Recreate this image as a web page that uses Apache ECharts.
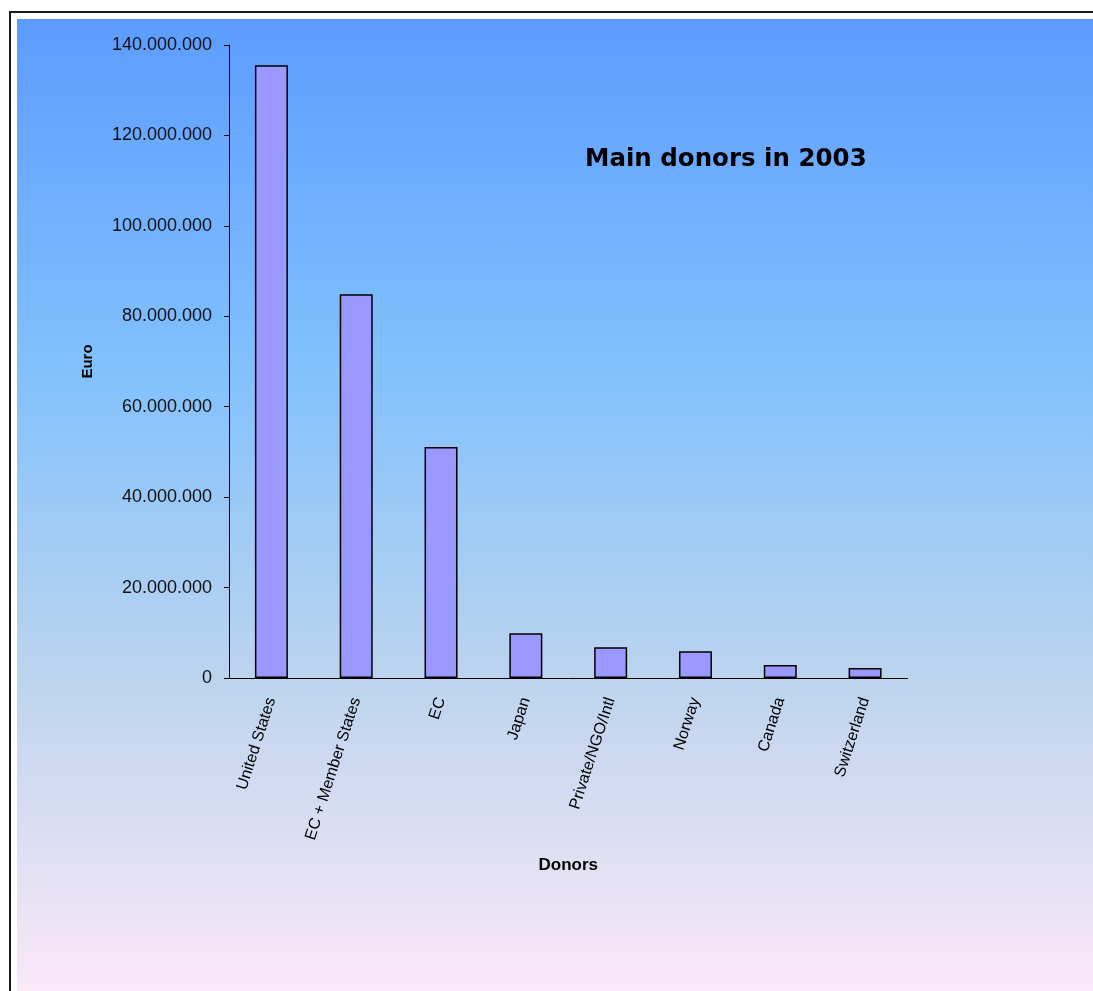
<!DOCTYPE html>
<html>
<head>
<meta charset="utf-8">
<script src="https://cdn.jsdelivr.net/npm/echarts@6/dist/echarts.min.js"></script>
<style>
  html, body { margin: 0; padding: 0; background: #fff; overflow: hidden; }
  #frame {
    position: absolute; left: 9px; top: 11px; width: 1200px; height: 1100px;
    border-left: 2px solid #1a1a1a; border-top: 2px solid #1a1a1a; background: #fff;
  }
  #fill {
    position: absolute; left: 17px; top: 19px; width: 1076px; height: 972px;
    background: linear-gradient(to bottom, #5c9cff 0%, #80c0fd 35%, #bcd4ee 68%, #fbe8f8 100%);
  }
  #chart { position: absolute; left: 0; top: 0; width: 1093px; height: 991px; }
</style>
</head>
<body>
<div id="frame"></div>
<div id="fill"></div>
<div id="chart"></div>
<script>
const donors = ['United States', 'EC + Member States', 'EC', 'Japan', 'Private/NGO/Intl', 'Norway', 'Canada', 'Switzerland'];
const euros = [135500000, 84900000, 51100000, 9900000, 6800000, 5900000, 2900000, 2200000];

const chart = echarts.init(document.getElementById('chart'));

// thousands with dots, like the original sheet
const fmt = v => String(v).replace(/\B(?=(\d{3})+(?!\d))/g, '.');

chart.setOption({
  backgroundColor: 'transparent',
  animation: false,
  title: {
    text: 'Main donors in 2003',
    left: 580,
    top: 142,
    textStyle: { fontFamily: 'DejaVu Sans', fontWeight: 'bold', fontSize: 24.5, color: '#000' }
  },
  grid: { left: 229, right: 185.5, top: 45, bottom: 313 },
  xAxis: {
    type: 'category',
    data: donors,
    name: 'Donors',
    nameLocation: 'middle',
    nameGap: 179,
    nameTextStyle: { fontFamily: 'Liberation Sans, Arial', fontWeight: 'bold', fontSize: 17, color: '#000' },
    axisLine: { lineStyle: { color: '#000', width: 1 } },
    axisTick: { length: 5, lineStyle: { color: '#000' } },
    axisLabel: {
      interval: 0,
      rotate: 72,
      margin: 20,
      fontFamily: 'Liberation Sans, Arial',
      fontSize: 16,
      color: '#000'
    }
  },
  yAxis: {
    type: 'value',
    min: 0,
    max: 140000000,
    interval: 20000000,
    name: 'Euro',
    nameLocation: 'middle',
    nameRotate: 90,
    nameGap: 134,
    nameTextStyle: { fontFamily: 'Liberation Sans, Arial', fontWeight: 'bold', fontSize: 15, color: '#000' },
    axisLine: { show: true, lineStyle: { color: '#000', width: 1 } },
    axisTick: { show: true, length: 5, lineStyle: { color: '#000' } },
    splitLine: { show: false },
    axisLabel: {
      formatter: fmt,
      margin: 17,
      fontFamily: 'Liberation Sans, Arial',
      fontSize: 18,
      color: '#111'
    }
  },
  series: [
    {
      type: 'bar',
      data: euros,
      barWidth: 33,
      itemStyle: { color: '#9999ff', borderColor: '#000', borderWidth: 1.5 }
    }
  ]
});
</script>
</body>
</html>
